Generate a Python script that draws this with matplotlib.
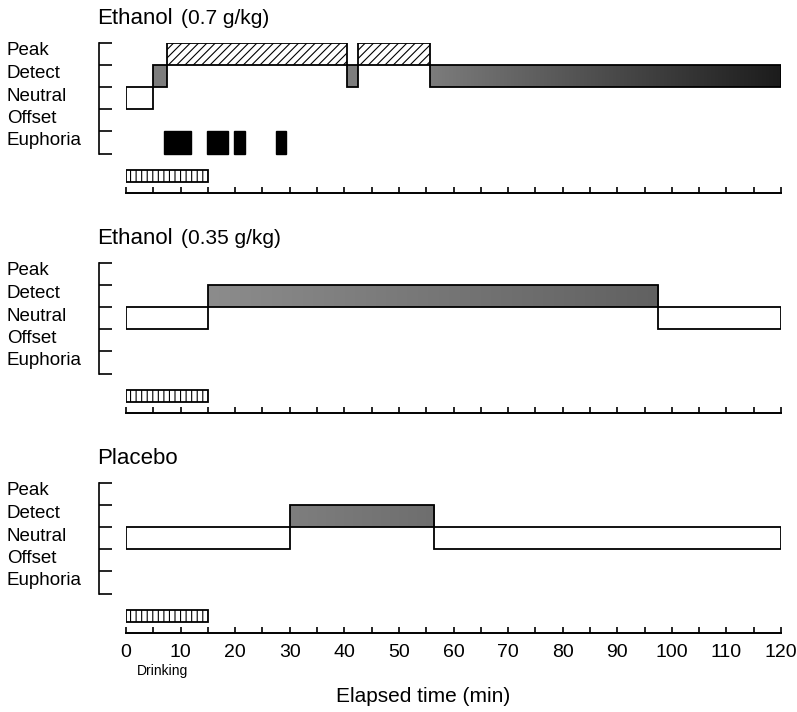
import matplotlib
matplotlib.use("Agg")
import matplotlib.pyplot as plt
import numpy as np
from matplotlib.transforms import blended_transform_factory
from matplotlib.colors import LinearSegmentedColormap

plt.rcParams['font.family'] = ['Liberation Sans', 'DejaVu Sans']
plt.rcParams['hatch.linewidth'] = 0.8

# ---------------- data ----------------
state_names = ['Peak', 'Detect', 'Neutral', 'Offset', 'Euphoria']
state_level = {'Peak': 4, 'Detect': 3, 'Neutral': 2, 'Offset': 1, 'Euphoria': 0}

panel_titles = ['Ethanol', 'Ethanol', 'Placebo']
panel_doses = ['(0.7 g/kg)', '(0.35 g/kg)', '']

p1_starts = [0, 5, 7.5, 40.5, 42.5, 55.7]
p1_ends = [5, 7.5, 40.5, 42.5, 55.7, 120]
p1_states = ['Neutral', 'Detect', 'Peak', 'Detect', 'Peak', 'Detect']
p1_euph_starts = [7.0, 14.8, 19.8, 27.5]
p1_euph_ends = [11.9, 18.7, 21.8, 29.3]

p2_starts = [0, 15, 97.5]
p2_ends = [15, 97.5, 120]
p2_states = ['Neutral', 'Detect', 'Neutral']

p3_starts = [0, 30, 56.5]
p3_ends = [30, 56.5, 120]
p3_states = ['Neutral', 'Detect', 'Neutral']

drink_start, drink_end = 0, 15
x_ticks = list(range(0, 121, 5))

panels = [
    (p1_starts, p1_ends, p1_states, p1_euph_starts, p1_euph_ends),
    (p2_starts, p2_ends, p2_states, [], []),
    (p3_starts, p3_ends, p3_states, [], []),
]

# shading (left -> right) of the long grey bars: (panel, segment) -> colours
grey_gradients = {
    (0, 5): ('#7c7c7c', '#1c1c1c'),
    (1, 1): ('#8c8c8c', '#616161'),
    (2, 1): ('#7e7e7e', '#6e6e6e'),
}
grey_default = '#7d7d7d'

# ---------------- layout ----------------
W, H = 797, 712
fig = plt.figure(figsize=(W / 100, H / 100), dpi=100)
panel_top_px = [43, 263, 483]
ax_left_px, ax_right_px = 126, 781
ax_h_px = 150
YLIM = (-1.78, 5)

for i, (starts, ends, states, es, ee) in enumerate(panels):
    top = panel_top_px[i]
    ax = fig.add_axes([ax_left_px / W, (H - top - ax_h_px) / H,
                       (ax_right_px - ax_left_px) / W, ax_h_px / H])
    ax.patch.set_visible(False)
    for s in ['top', 'right']:
        ax.spines[s].set_visible(False)
    ax.spines['left'].set_position(('outward', 19.5))
    ax.spines['left'].set_bounds(0, 5)
    ax.spines['bottom'].set_bounds(0, 120)
    ax.spines['left'].set_linewidth(1.2)
    ax.spines['bottom'].set_linewidth(1.4)
    ax.set_yticks(range(6))
    ax.set_yticklabels([])
    ax.tick_params(axis='y', direction='in', length=9.5, width=1.2)
    ax.set_xticks(x_ticks)
    ax.tick_params(axis='x', direction='in', length=4.5, width=1.2, pad=8,
                   labelsize=14)
    if i == 2:
        ax.set_xticklabels([str(v) if v % 10 == 0 else '' for v in x_ticks])
    else:
        ax.set_xticklabels([])

    for k, (s0, s1, st) in enumerate(zip(starts, ends, states)):
        lvl = state_level[st]
        if st == 'Neutral':
            ax.bar(s0, 1, width=s1 - s0, bottom=lvl, align='edge',
                   facecolor='white', edgecolor='black', linewidth=1.3,
                   zorder=2)
        elif st == 'Peak':
            ax.bar(s0, 1, width=s1 - s0, bottom=lvl, align='edge',
                   facecolor='white', edgecolor='black', hatch='////',
                   linewidth=1.3, zorder=2)
        else:
            if (i, k) in grey_gradients:
                c0, c1 = grey_gradients[(i, k)]
                bars = ax.bar(s0, 1, width=s1 - s0, bottom=lvl, align='edge',
                              facecolor='none', edgecolor='black',
                              linewidth=1.3, zorder=3)
                cmap = LinearSegmentedColormap.from_list('g', [c0, c1])
                im = ax.imshow(np.linspace(0, 1, 256).reshape(1, -1),
                               extent=[s0, s1, lvl, lvl + 1], cmap=cmap,
                               aspect='auto', zorder=2, interpolation='bilinear')
                im.set_clip_path(bars[0])
            else:
                ax.bar(s0, 1, width=s1 - s0, bottom=lvl, align='edge',
                       facecolor=grey_default, edgecolor='black',
                       linewidth=1.3, zorder=2)
    for s0, s1 in zip(es, ee):
        ax.bar(s0, 1, width=s1 - s0, bottom=state_level['Euphoria'],
               align='edge', facecolor='black', edgecolor='black',
               linewidth=1.0, zorder=2)
    # drinking bar
    ax.bar(drink_start, 0.55, width=drink_end - drink_start, bottom=-1.3,
           align='edge', facecolor='white', edgecolor='black', hatch='|||',
           linewidth=1.3, zorder=2)

    ax.set_xlim(0, 120)
    ax.set_ylim(*YLIM)

    # state labels
    tr = blended_transform_factory(fig.transFigure, ax.transData)
    for name in state_names:
        off = 0.68 if name == 'Peak' else 0.6
        ax.text(7 / W, state_level[name] + off, name, transform=tr,
                ha='left', va='center', fontsize=13.5)

    # titles
    ty = (H - (top - 25)) / H
    fig.text(97 / W, ty, panel_titles[i], ha='left', va='center',
             fontsize=16)
    if panel_doses[i]:
        fig.text(181 / W, ty, panel_doses[i], ha='left', va='center',
                 fontsize=15)

fig.text(163 / W, (H - 671) / H, 'Drinking', ha='center', va='center',
         fontsize=10)
fig.text(423 / W, (H - 696) / H, 'Elapsed time (min)', ha='center',
         va='center', fontsize=15)

fig.savefig('out.png', dpi=100)
